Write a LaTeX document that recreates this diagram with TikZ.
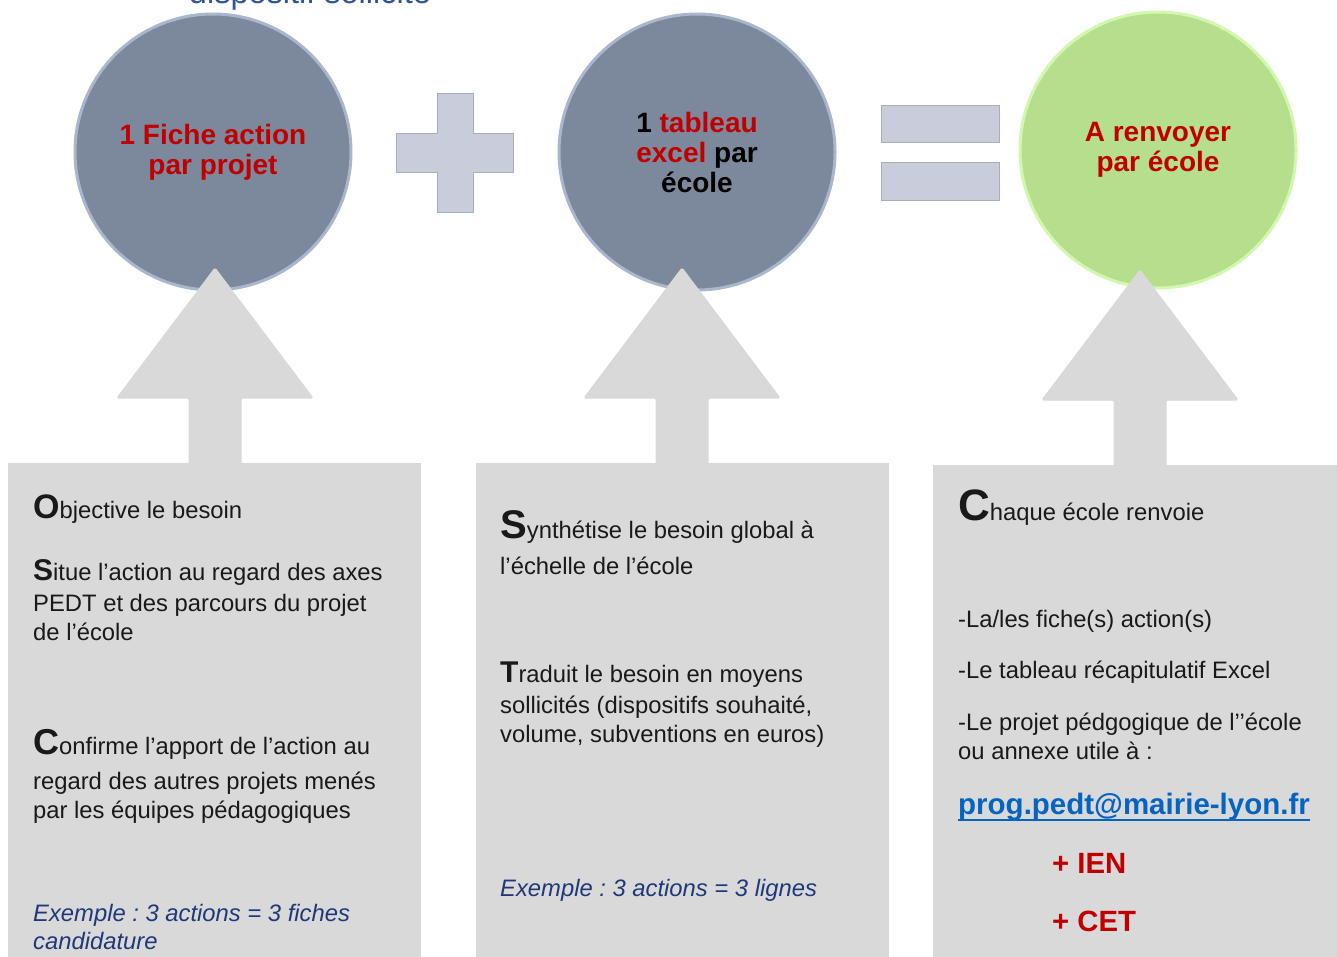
\documentclass[tikz,border=0pt]{standalone}
\usepackage{fontspec}
\setmainfont{Liberation Sans}
\usepackage{xcolor}
\definecolor{boxgray}{HTML}{D9D9D9}
\definecolor{circblue}{HTML}{7C889C}
\definecolor{circblueedge}{HTML}{A9B6CC}
\definecolor{circgreen}{HTML}{B5DF8C}
\definecolor{circgreenedge}{HTML}{D2F7AE}
\definecolor{signfill}{HTML}{C9CCDA}
\definecolor{signedge}{HTML}{A9ACBA}
\definecolor{txtred}{HTML}{C00000}
\definecolor{exblue}{HTML}{1F3878}
\definecolor{topblue}{HTML}{2F5496}
\definecolor{linkblue}{HTML}{0563C1}
\frenchspacing
\begin{document}
\begin{tikzpicture}[x=1pt,y=-1pt,
  bubble/.style={circle,minimum size=276pt,inner sep=0pt,line width=3pt,align=center,
    font=\fontsize{28}{30}\selectfont\bfseries},
  sign/.style={fill=signfill,draw=signedge,line width=1pt},
  uparrow/.style={fill=boxgray,draw=boxgray,line width=1pt,rounded corners=1.5pt},
  panel/.style={fill=boxgray,draw=none},
  body/.style={anchor=base west,inner sep=0pt,font=\fontsize{23.8}{28}\selectfont,text=black!90},
  ex/.style={anchor=base west,inner sep=0pt,font=\fontsize{23.8}{28}\selectfont\itshape,text=exblue},
  red/.style={anchor=base west,inner sep=0pt,font=\fontsize{29.3}{30}\selectfont\bfseries,text=txtred}
]
\useasboundingbox (0,0) rectangle (1337,956);
\fill[white] (0,0) rectangle (1337,956);

% top cut-off text
\node[anchor=base,inner sep=0pt,text=topblue,font=\fontsize{32.5}{34}\selectfont] (top) at (310,3) {dispositif sollicité};

% circles
\node[bubble,fill=circblue,draw=circblueedge,text=txtred] (c1) at (213,152)
  {1 Fiche action\\par projet};
\node[bubble,fill=circblue,draw=circblueedge] (c2) at (697,152)
  {1 \textcolor{txtred}{tableau}\\\textcolor{txtred}{excel} par\\école};
\node[bubble,fill=circgreen,draw=circgreenedge,text=txtred] (c3) at (1158,150)
  {A renvoyer\\par école};

% plus sign
\draw[sign] (437,93) -- (473,93) -- (473,133) -- (513,133) -- (513,172) -- (473,172)
  -- (473,212) -- (437,212) -- (437,172) -- (396,172) -- (396,133) -- (437,133) -- cycle;
% equals sign
\draw[sign] (881,105) rectangle (999,142);
\draw[sign] (881,162) rectangle (999,200);

% panels
\fill[panel] (8,463) rectangle (421,960);
\fill[panel] (476,463) rectangle (889,960);
\fill[panel] (933,465) rectangle (1340,960);

% up arrows
\draw[uparrow] (189,466) -- (189,398) -- (117,398) -- (215,268) -- (313,398) -- (241,398) -- (241,466) -- cycle;
\draw[uparrow] (656,466) -- (656,398) -- (584,398) -- (682,268) -- (780,398) -- (708,398) -- (708,466) -- cycle;
\draw[uparrow] (1114,468) -- (1114,400) -- (1042,400) -- (1140,270) -- (1238,400) -- (1166,400) -- (1166,468) -- cycle;

% panel 1
\node[body] (a1) at (33,518) {{\fontsize{34}{34}\selectfont\bfseries O}bjective le besoin};
\node[body] (a2) at (33,580) {{\fontsize{30}{30}\selectfont\bfseries S}itue l’action au regard des axes};
\node[body] (a3) at (33,611) {PEDT et des parcours du projet};
\node[body] (a4) at (33,640) {de l’école};
\node[body] (a5) at (33,754) {{\fontsize{36}{36}\selectfont\bfseries C}onfirme l’apport de l’action au};
\node[body] (a6) at (33,789) {regard des autres projets menés};
\node[body] (a7) at (33,818) {par les équipes pédagogiques};
\node[ex] (a8) at (33,921) {Exemple : 3 actions = 3 fiches};
\node[ex] (a9) at (33,949) {candidature};

% panel 2
\node[body] (b1) at (500,538) {{\fontsize{40}{40}\selectfont\bfseries S}ynthétise le besoin global à};
\node[body] (b2) at (500,574) {l’échelle de l’école};
\node[body] (b3) at (500,682) {{\fontsize{30}{30}\selectfont\bfseries T}raduit le besoin en moyens};
\node[body] (b4) at (500,713) {sollicités (dispositifs souhaité,};
\node[body] (b5) at (500,742) {volume, subventions en euros)};
\node[ex] (b6) at (500,896) {Exemple : 3 actions = 3 lignes};

% panel 3
\node[body] (d1) at (958,520) {{\fontsize{44}{44}\selectfont\bfseries C}haque école renvoie};
\node[body] (d2) at (958,627) {-La/les fiche(s) action(s)};
\node[body] (d3) at (958,678) {-Le tableau récapitulatif Excel};
\node[body] (d4) at (958,730) {-Le projet pédgogique de l’’école};
\node[body] (d5) at (958,759) {ou annexe utile à :};
\node[anchor=base west,inner sep=0pt,font=\fontsize{29.5}{30}\selectfont\bfseries,text=linkblue] (d6) at (958,814) {prog.pedt@mairie-lyon.fr};
\draw[linkblue,line width=2.5pt] (d6.base west) ++(0,6) coordinate (ul1) -- (d6.base east |- ul1);
\node[red] (d7) at (1052,873) {+ IEN};
\node[red] (d8) at (1052,931) {+ CET};
\end{tikzpicture}
\end{document}
